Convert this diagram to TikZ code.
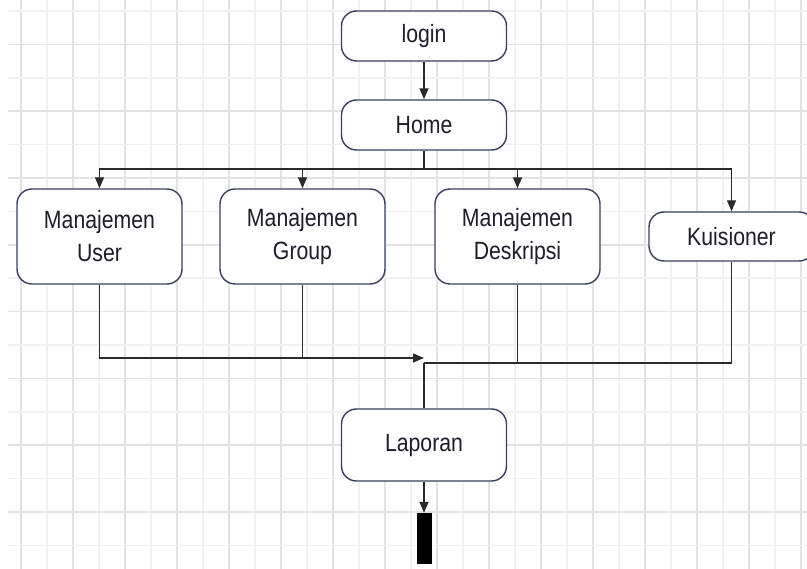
\documentclass[tikz,border=0pt]{standalone}
\usepackage{fontspec}
\setmainfont[FakeStretch=0.85]{Liberation Sans}
\usetikzlibrary{arrows.meta}
\definecolor{gridlight}{HTML}{F1F1F1}
\definecolor{griddark}{HTML}{E3E3E3}
\definecolor{boxline}{HTML}{3A3F5E}
\definecolor{wirecol}{HTML}{2A2A2A}
\definecolor{textcol}{HTML}{1E1E2A}
\tikzset{
  menubox/.style={draw=boxline, line width=1.4pt, rounded corners=15pt, fill=white,
    minimum width=165pt, inner sep=0pt, align=center, text=textcol,
    font=\fontsize{25}{33}\selectfont},
  wire/.style={draw=wirecol, line width=1.4pt},
  arr/.style={wire, -{Triangle[length=11pt,width=9pt]}},
}
\begin{document}
\begin{tikzpicture}[x=1pt, y=-1pt]
        \useasboundingbox (0,0) rectangle (807,569);
        % background grid
        \foreach \k in {0,...,30}{
            \ifodd\k \def\gc{gridlight}\else \def\gc{griddark}\fi
            \draw[\gc, line width=1.6pt] ({21+26*\k},0) -- ({21+26*\k},569);
        }
        \foreach \k in {0,...,16}{
            \ifodd\k \def\gc{griddark}\else \def\gc{gridlight}\fi
            \draw[\gc, line width=1.6pt] (8,{11+33.4*\k}) -- (807,{11+33.4*\k});
        }

        \node[menubox, minimum height=50pt] (login) at (424,36) {login};
        \node[menubox, minimum height=50pt] (home) at (424,125) {Home};
        \node[menubox, minimum height=95pt] (user) at (99.5,236.5) {Manajemen\\User};
        \node[menubox, minimum height=95pt] (group) at (302.5,236.5) {Manajemen\\Group};
        \node[menubox, minimum height=95pt] (desk) at (517.5,236.5) {Manajemen\\Deskripsi};
        \node[menubox, minimum height=49pt] (kuis) at (731.5,236.5) {Kuisioner};
        \node[menubox, minimum height=72pt] (lap) at (424,445) {Laporan};
        \node[fill=black, draw=black, minimum width=14pt, minimum height=50pt, inner sep=0pt] (akhir) at (424,538) {};

        \coordinate (bus) at (424,169);
        \coordinate (joinL) at (424,358);
        \coordinate (joinR) at (424,363);

        \draw[arr] (login) -- (home);
        \draw[wire] (home.south) -- (bus);
        \draw[arr] (bus) -| (user.north);
        \draw[arr] (bus) -| (group.north);
        \draw[arr] (bus) -| (desk.north);
        \draw[arr] (bus) -| (kuis.north);

        \draw[arr] (user.south) |- (joinL);
        \draw[wire] (group.south) -- (group.south |- joinL);
        \draw[wire] (kuis.south) |- (joinR);
        \draw[wire] (desk.south) -- (desk.south |- joinR);
        \draw[wire] (joinR) -- (lap.north);
        \draw[arr] (lap.south) -- (akhir.north);
\end{tikzpicture}
\end{document}
